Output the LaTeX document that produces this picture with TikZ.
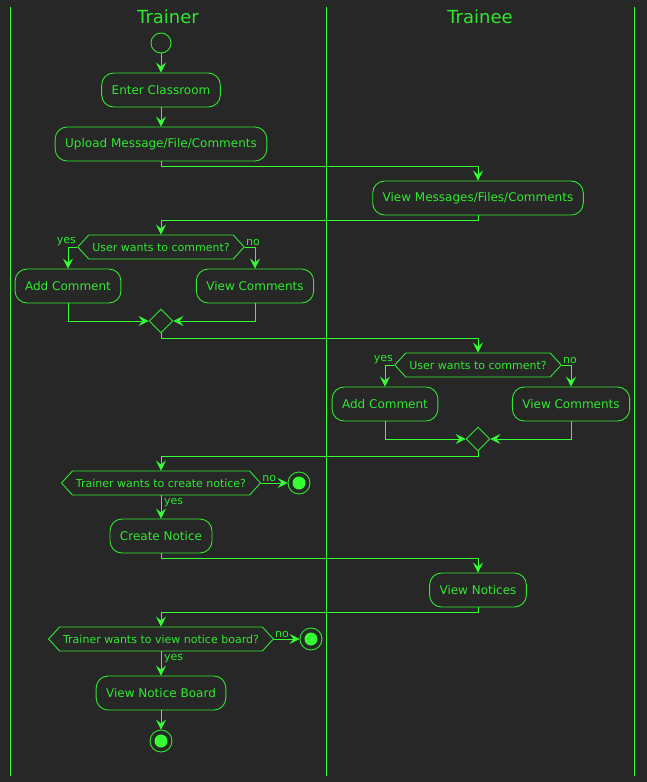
\documentclass[tikz,border=0pt]{standalone}
\usepackage{fontspec}
\setmainfont{DejaVu Sans}
\usetikzlibrary{arrows.meta, shapes.symbols, shapes.geometric}
\definecolor{bg}{RGB}{39,39,39}
\definecolor{lgreen}{RGB}{51,255,51}
\definecolor{tgreen}{RGB}{48,232,48}
\tikzset{
    every node/.style={text=tgreen, font=\fontsize{12}{14}\selectfont}
}
\tikzset{
    act/.style={rectangle, rounded corners=12pt, draw=tgreen, line width=0.9pt,
    	minimum height=34pt, inner xsep=10pt},
    ask/.style={shape=signal, signal to=west and east, signal pointer angle=95,
    	draw=tgreen, line width=0.9pt, minimum height=24pt, inner xsep=3.5pt,
    	inner ysep=0pt, font=\fontsize{11}{13}\selectfont},
    merge/.style={diamond, draw=tgreen, line width=0.9pt, minimum size=24pt, inner sep=0pt},
    startnode/.style={circle, draw=tgreen, line width=0.9pt, minimum size=20pt, inner sep=0pt},
    stopnode/.style={circle, draw=tgreen, line width=0.9pt, minimum size=22pt, inner sep=0pt,
    	path picture={\fill[lgreen] (path picture bounding box.center) circle (6.5pt);}},
    lbl/.style={font=\fontsize{11}{13}\selectfont, inner sep=1pt},
    title/.style={font=\fontsize{18}{20}\selectfont}
}
\tikzset{
    lane/.style={draw=lgreen, line width=1pt},
    flow/.style={draw=lgreen, line width=0.9pt, -{Stealth[length=10pt, width=10pt, inset=4pt]}}
}

\begin{document}
\begin{tikzpicture}[x=1pt, y=-1pt]
	\fill[bg] (0,0) rectangle (647,782);
	\draw[lane] (10,7) -- (10,776);
	\draw[lane] (326,7) -- (326,776);
	\draw[lane] (634,7) -- (634,776);
	\node (ttr) [title] at (168,17) {Trainer};
	\node (tte) [title] at (480,17) {Trainee};

	\node (start) [startnode] at (161,43) {};
	\node (enter) [act] at (161,90) {Enter Classroom};
	\node (upl) [act] at (161,144) {Upload Message/File/Comments};
	\node (vmsg) [act] at (478,198) {View Messages/Files/Comments};

	\node (q1) [ask, label={[lbl, anchor=south east]west:yes},
		label={[lbl, anchor=south west]east:no}] at (161,247) {User wants to comment?};
	\node (add1) [act] at (68,286) {Add Comment};
	\node (vc1) [act] at (255,286) {View Comments};
	\node (m1) [merge] at (161,321) {};

	\node (q2) [ask, label={[lbl, anchor=south east]west:yes},
		label={[lbl, anchor=south west]east:no}] at (478,365) {User wants to comment?};
	\node (add2) [act] at (385,404) {Add Comment};
	\node (vc2) [act] at (571,404) {View Comments};
	\node (m2) [merge] at (478,439) {};

	\node (q3) [ask, label={[lbl, anchor=south west]east:no},
		label={[lbl, anchor=north west, xshift=2pt, yshift=-2pt]south:yes}] at (161,483) {Trainer wants to create notice?};
	\node (stop1) [stopnode] at (299,483) {};
	\node (cn) [act] at (161,536) {Create Notice};
	\node (vn) [act] at (478,590) {View Notices};

	\node (q4) [ask, label={[lbl, anchor=south west]east:no},
		label={[lbl, anchor=north west, xshift=2pt, yshift=-2pt]south:yes}] at (161,639) {Trainer wants to view notice board?};
	\node (stop2) [stopnode] at (311,639) {};
	\node (vnb) [act] at (161,693) {View Notice Board};
	\node (stop3) [stopnode] at (161,741) {};

	\draw[flow] (start) -- (enter);
	\draw[flow] (enter) -- (upl);
	\draw[flow] (upl.south) -- ++(0,5) -| (vmsg.north);
	\draw[flow] (vmsg.south) -- ++(0,5) -| (q1.north);
	\draw[flow] (q1.west) -| (add1.north);
	\draw[flow] (q1.east) -| (vc1.north);
	\draw[flow] (add1.south) |- (m1.west);
	\draw[flow] (vc1.south) |- (m1.east);
	\draw[flow] (m1.south) -- ++(0,5) -| (q2.north);
	\draw[flow] (q2.west) -| (add2.north);
	\draw[flow] (q2.east) -| (vc2.north);
	\draw[flow] (add2.south) |- (m2.west);
	\draw[flow] (vc2.south) |- (m2.east);
	\draw[flow] (m2.south) -- ++(0,5) -| (q3.north);
	\draw[flow] (q3.east) -- (stop1);
	\draw[flow] (q3.south) -- (cn.north);
	\draw[flow] (cn.south) -- ++(0,5) -| (vn.north);
	\draw[flow] (vn.south) -- ++(0,5) -| (q4.north);
	\draw[flow] (q4.east) -- (stop2);
	\draw[flow] (q4.south) -- (vnb.north);
	\draw[flow] (vnb) -- (stop3);
\end{tikzpicture}
\end{document}
